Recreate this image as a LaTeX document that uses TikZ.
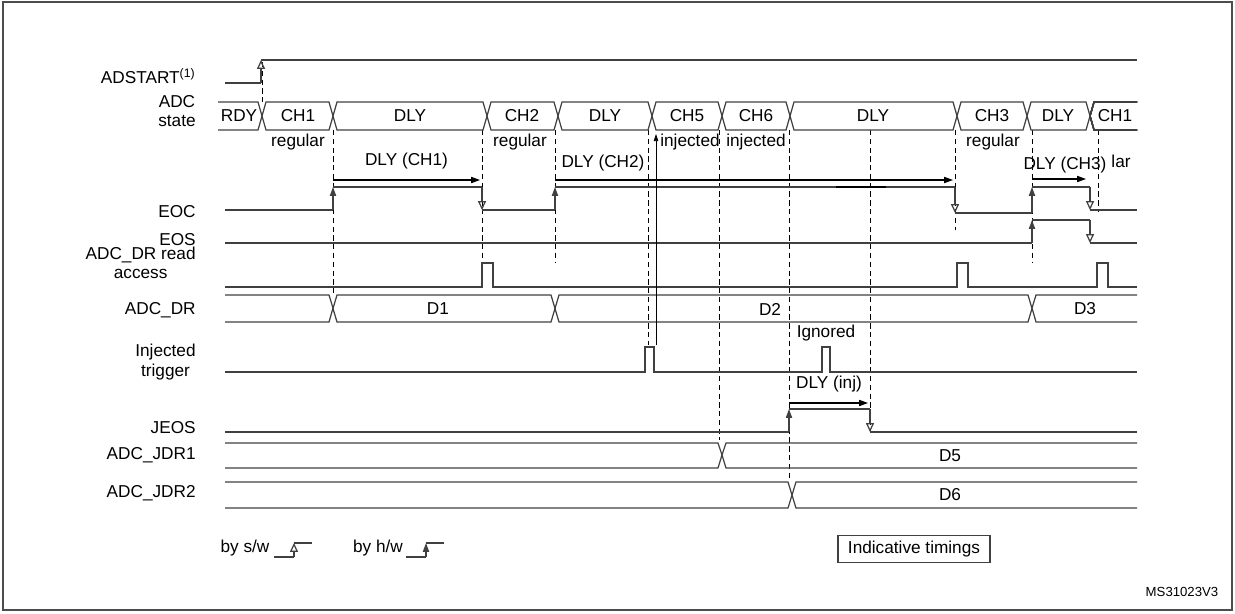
\documentclass[tikz,border=0pt]{standalone}
\usepackage{fontspec}
\setmainfont{Liberation Sans}
\usetikzlibrary{arrows.meta}

\tikzset{
    sig/.style={draw=black!75, line width=0.7pt},
    guide/.style={draw=black, dashed, line width=0.5pt, dash pattern=on 3pt off 2pt},
    swtip/.style={-{Triangle[open,length=5pt,width=4.5pt]}},
    hwtip/.style={-{Triangle[length=5pt,width=3.5pt]}},
    dlytip/.style={-{Triangle[length=5pt,width=3.5pt]}, line width=0.6pt},
    lbl/.style={anchor=east, align=center, inner sep=0pt},
    txt/.style={inner sep=0pt}
}

% bus segment: from x1 to x2, top/bottom y
\newcommand{\busseg}[4]{%
    \draw[sig] (#1+4,#3) -- (#2-4,#3) -- (#2,{(#3+#4)/2}) -- (#2-4,#4) -- (#1+4,#4) -- (#1,{(#3+#4)/2}) -- cycle;}

\begin{document}
\fontsize{9.8}{11}\selectfont
\begin{tikzpicture}[x=0.02cm, y=-0.02cm]

    \useasboundingbox (0,0) rectangle (1235,613);
    \draw[black!70, line width=0.6pt] (3,2) rectangle (1232,610);

    % signal names
    \node[lbl] (nstart) at (196,76) {ADSTART\textsuperscript{\fontsize{7}{8}\selectfont(1)}};
    \node[lbl] (nstate) at (196,111) {ADC\\state};
    \node[lbl] (neoc) at (196,212) {EOC};
    \node[lbl] (neos) at (196,240) {EOS};
    \node[lbl] (nread) at (196,263) {ADC\_DR read\\access};
    \node[lbl] (ndr) at (196,310) {ADC\_DR};
    \node[lbl] (ninj) at (196,362) {Injected\\trigger};
    \node[lbl] (njeos) at (196,428) {JEOS};
    \node[lbl] (njdr1) at (196,455) {ADC\_JDR1};
    \node[lbl] (njdr2) at (196,493) {ADC\_JDR2};

    % guides
    \draw[guide] (262,62) -- (262,102);
    \foreach \gx/\gy in {333/295, 482/265, 555/262, 648/345, 719/440, 789/480, 870/432, 955/230, 1032/262, 1098/212}
        \draw[guide] (\gx,130) -- (\gx,\gy);

    % ADSTART
    \draw[sig] (225,83) -- (261,83);
    \draw[sig, swtip] (261,83) -- (261,60);
    \draw[sig] (261,60) -- (1137,60);

    % ADC state
    \draw[sig] (218,102) -- (258,102) -- (262,116) -- (258,130) -- (218,130);
    \foreach \xa/\xb in {262/333, 333/487, 487/558, 558/652, 652/722, 722/790, 790/957, 957/1027, 1027/1090}
        \busseg{\xa}{\xb}{102}{130}
    \draw[sig] (1137,102) -- (1094,102) -- (1090,116) -- (1094,130) -- (1137,130);
    \node[txt] (srdy) at (239,116) {RDY};
    \node[txt] (sch1) at (298,116) {CH1};
    \node[txt] (sdly1) at (410,116) {DLY};
    \node[txt] (sch2) at (522,116) {CH2};
    \node[txt] (sdly2) at (605,116) {DLY};
    \node[txt] (sch5) at (687,116) {CH5};
    \node[txt] (sch6) at (756,116) {CH6};
    \node[txt] (sdly3) at (873,116) {DLY};
    \node[txt] (sch3) at (992,116) {CH3};
    \node[txt] (sdly4) at (1058,116) {DLY};
    \node[txt] (sch1b) at (1115,116) {CH1};
    \node[txt] (rg1) at (298,142) {regular};
    \node[txt] (rg2) at (520,142) {regular};
    \node[txt] (ij1) at (690,142) {injected};
    \node[txt] (ij2) at (756,142) {injected};
    \node[txt] (rg3) at (993,142) {regular};
    \node[txt] (rg4) at (1121,161) {lar};

    % DLY arrows
    \draw[dlytip] (333,180) -- node[above=6pt, txt] (d1) {DLY (CH1)} (480,180);
    \draw[dlytip] (555,180) -- (953,180);
    \node[txt] (d2) at (603,163) {DLY (CH2)};
    \draw[dlytip] (1032,179) -- (1086,179);
    \node[txt] (d3) at (1065,165) {DLY (CH3)};

    % EOC
    \draw[sig] (225,210) -- (333,210);
    \draw[sig, hwtip] (333,210) -- (333,187);
    \draw[sig] (333,187) -- (482,187);
    \draw[sig, swtip] (482,187) -- (482,210);
    \draw[sig] (482,210) -- (555,210);
    \draw[sig, hwtip] (555,210) -- (555,187);
    \draw[sig] (555,187) -- (955,187);
    \draw[black, line width=1.4pt] (836,187) -- (886,187);
    \draw[sig, swtip] (955,187) -- (955,213);
    \draw[sig] (955,213) -- (1032,213);
    \draw[sig, hwtip] (1032,213) -- (1032,187);
    \draw[sig] (1032,187) -- (1090,187);
    \draw[sig, swtip] (1090,187) -- (1090,210);
    \draw[sig] (1090,210) -- (1137,210);

    % EOS
    \draw[sig] (225,243) -- (1032,243);
    \draw[sig, hwtip] (1032,243) -- (1032,220);
    \draw[sig] (1032,220) -- (1090,220);
    \draw[sig, swtip] (1090,220) -- (1090,243);
    \draw[sig] (1090,243) -- (1137,243);

    % ADC_DR read access
    \draw[sig] (225,287) -- (482,287) -- (482,263) -- (493,263) -- (493,287)
        -- (957,287) -- (957,263) -- (968,263) -- (968,287)
        -- (1097,287) -- (1097,263) -- (1108,263) -- (1108,287) -- (1137,287);

    % ADC_DR
    \draw[sig] (225,295) -- (329,295) -- (333,308) -- (329,322) -- (225,322);
    \busseg{333}{555}{295}{322}
    \busseg{555}{1032}{295}{322}
    \draw[sig] (1137,295) -- (1036,295) -- (1032,308) -- (1036,322) -- (1137,322);
    \node[txt] (dd1) at (438,309) {D1};
    \node[txt] (dd2) at (770,309) {D2};
    \node[txt] (dd3) at (1085,309) {D3};

    % injected trigger
    \draw[sig] (225,372) -- (645,372) -- (645,347) -- (654,347) -- (654,372)
        -- (822,372) -- (822,347) -- (830,347) -- (830,372) -- (1137,372);
    \draw[line width=0.4pt, -{Triangle[length=4pt,width=2.5pt]}] (656,345) -- (656,134);
    \node[txt] (ign) at (826,333) {Ignored};

    % JEOS
    \draw[dlytip] (790,403) -- node[above=6pt, txt] (dinj) {DLY (inj)} (868,403);
    \draw[sig] (225,432) -- (789,432);
    \draw[sig, hwtip] (789,432) -- (789,409);
    \draw[sig] (789,409) -- (870,409);
    \draw[sig, swtip] (870,409) -- (870,432);
    \draw[sig] (870,432) -- (1137,432);

    % ADC_JDR1 / ADC_JDR2
    \draw[sig] (225,443) -- (718,443) -- (722,455) -- (718,468) -- (225,468);
    \draw[sig] (1137,443) -- (726,443) -- (722,455) -- (726,468) -- (1137,468);
    \node[txt] (dd5) at (950,456) {D5};
    \draw[sig] (225,482) -- (788,482) -- (792,495) -- (788,508) -- (225,508);
    \draw[sig] (1137,482) -- (796,482) -- (792,495) -- (796,508) -- (1137,508);
    \node[txt] (dd6) at (950,495) {D6};

    % legend
    \node[txt] (lsw) at (245,548) {by s/w};
    \draw[sig] (274,557) -- (294,557);
    \draw[sig, swtip] (294,557) -- (294,543);
    \draw[sig] (294,543) -- (312,543);
    \node[txt] (lhw) at (378,548) {by h/w};
    \draw[sig] (406,557) -- (426,557);
    \draw[sig, hwtip] (426,557) -- (426,543);
    \draw[sig] (426,543) -- (444,543);
    \node[draw=black!75, line width=0.6pt, minimum width=3.04cm, minimum height=0.52cm] (ind) at (914,549) {Indicative timings};
    \node[txt, font=\fontsize{7.5}{8}\selectfont] (ref) at (1182,592) {MS31023V3};

\end{tikzpicture}
\end{document}
